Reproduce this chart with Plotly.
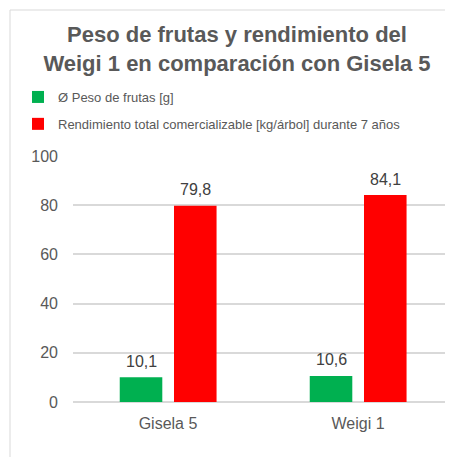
import plotly.graph_objects as go

categories = ["Gisela 5", "Weigi 1"]
peso_frutas = [10.1, 10.6]
rendimiento = [79.8, 84.1]
series_names = ["Ø Peso de frutas [g]",
                "Rendimiento total comercializable [kg/árbol] durante 7 años"]
y_ticks = [0, 20, 40, 60, 80, 100]

FONT = "Liberation Sans, Arial, sans-serif"
OFF = 8            # page body margin (screen = canvas + 8)
W, H = 453 - OFF, 457 - OFF
L, R, T, B = 73 - OFF, 0, 156 - OFF, H - (402 - OFF)
BAR_W = 0.224
OFFSETS = [-0.254, 0.0316]
COLORS = ["#00B050", "#FF0000"]

fig = go.Figure()
series = [peso_frutas, rendimiento]
for k, vals in enumerate(series):
    fig.add_trace(go.Bar(
        x=categories, y=vals, name=series_names[k],
        marker=dict(color=COLORS[k], line=dict(width=0)),
        width=BAR_W, offset=OFFSETS[k],
        legendgroup="g%d" % k,
    ))
    for i, v in enumerate(vals):
        fig.add_annotation(
            x=i + OFFSETS[k] + BAR_W / 2, y=v, xref="x", yref="y",
            text=("%.1f" % v).replace(".", ","), showarrow=False,
            yanchor="middle", yshift=16,
            font=dict(family=FONT, size=16, color="#404040"),
        )

pw = W - L - R
ph = H - T - B
fig.add_shape(type="rect", xref="paper", yref="paper",
              x0=(10 - OFF - L) / pw, x1=1.2, y0=-0.4,
              y1=(H - B - (10 - OFF)) / ph,
              line=dict(color="#D9D9D9", width=1), fillcolor="rgba(0,0,0,0)",
              layer="below")

fig.update_layout(
    width=W, height=H,
    margin=dict(l=L, r=R, t=T, b=B, autoexpand=False),
    paper_bgcolor="white", plot_bgcolor="white",
    separators=",.",
    font=dict(family=FONT, color="#595959"),
    title=dict(
        text="<b>Peso de frutas y rendimiento del<br>Weigi 1 en comparación con Gisela 5</b>",
        font=dict(family=FONT, size=22, color="#595959"),
        xref="paper", x=(237 - OFF - L) / pw, xanchor="center",
        yref="container", y=1 - 34 / H, yanchor="middle",
    ),
    showlegend=True,
    legend=dict(
        xref="paper", yref="paper",
        x=(10 - L) / pw, y=(H - B - (82 - OFF)) / ph,
        xanchor="left", yanchor="top",
        orientation="v", traceorder="grouped", tracegroupgap=7,
        font=dict(family=FONT, size=13, color="#595959"),
        bgcolor="rgba(0,0,0,0)", itemwidth=30,
    ),
    barmode="group",
    xaxis=dict(
        tickfont=dict(family=FONT, size=16, color="#595959"),
        showline=False, showgrid=False, ticks="",
        ticklabelstandoff=10,
    ),
    yaxis=dict(
        range=[0, 100], tickvals=y_ticks,
        tickfont=dict(family=FONT, size=16, color="#595959"),
        showgrid=True, gridcolor="#D9D9D9", gridwidth=1.5,
        zeroline=True, zerolinecolor="#D9D9D9", zerolinewidth=1.5,
        showline=False, ticks="", ticklabelstandoff=14,
    ),
)

fig.write_html("out.html")
